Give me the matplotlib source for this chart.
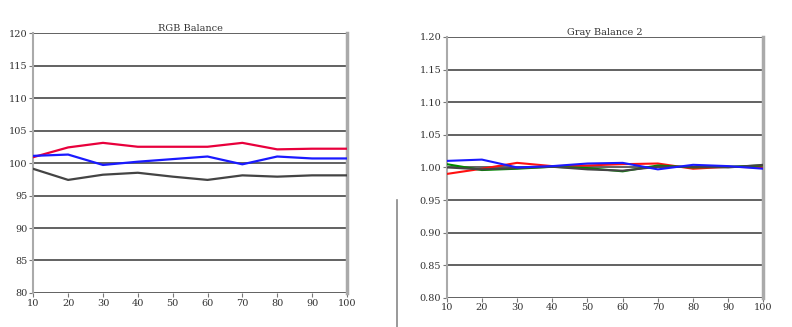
import matplotlib
matplotlib.use("Agg")
import matplotlib.pyplot as plt
from matplotlib.lines import Line2D

x = [10, 20, 30, 40, 50, 60, 70, 80, 90, 100]

left_title = "RGB Balance"
left_red = [100.9, 102.4, 103.1, 102.5, 102.5, 102.5, 103.1, 102.1, 102.2, 102.2]
left_blue = [101.1, 101.3, 99.7, 100.2, 100.6, 101.0, 99.8, 101.0, 100.7, 100.7]
left_gray = [99.1, 97.4, 98.2, 98.5, 97.9, 97.4, 98.1, 97.9, 98.1, 98.1]
left_yticks = [80, 85, 90, 95, 100, 105, 110, 115, 120]

right_title = "Gray Balance 2"
right_red = [0.990, 0.998, 1.007, 1.002, 1.003, 1.005, 1.006, 0.998, 1.001, 1.000]
right_green = [1.005, 0.996, 0.998, 1.001, 0.999, 0.994, 1.003, 1.000, 1.001, 1.003]
right_gray = [1.000, 0.997, 0.999, 1.001, 0.997, 0.995, 1.001, 1.001, 1.000, 1.004]
right_blue = [1.010, 1.012, 1.000, 1.002, 1.006, 1.007, 0.997, 1.004, 1.002, 0.998]
right_yticks = [0.80, 0.85, 0.90, 0.95, 1.00, 1.05, 1.10, 1.15, 1.20]

fig = plt.figure(figsize=(7.92, 3.27), dpi=100)
fig.patch.set_facecolor("white")

def style(ax, yticks, fmt, title):
    ax.set_xlim(10, 100)
    ax.set_ylim(yticks[0], yticks[-1])
    ax.set_xticks(x)
    ax.set_yticks(yticks)
    ax.set_yticklabels([fmt.format(v) for v in yticks])
    for v in yticks:
        ax.axhline(v, color="#555555", lw=1.3, zorder=1)
    for s in ["top", "bottom"]:
        ax.spines[s].set_visible(False)
    ax.spines["left"].set_color("#aaaaaa")
    ax.spines["left"].set_linewidth(1.5)
    ax.spines["right"].set_color("#aaaaaa")
    ax.spines["right"].set_linewidth(2.5)
    ax.tick_params(axis="both", labelsize=7, length=3, width=0.8, color="#777777",
                   labelcolor="#333333", pad=1)
    for lab in ax.get_xticklabels() + ax.get_yticklabels():
        lab.set_family("DejaVu Serif")
    ax.set_title(title, fontsize=7, family="DejaVu Serif", color="#333333", pad=1)

ax1 = fig.add_axes([0.042, 0.104, 0.396, 0.795])
ax1.plot(x, left_red, color="#e8003c", lw=1.6, zorder=3)
ax1.plot(x, left_blue, color="#1a1aff", lw=1.6, zorder=4)
ax1.plot(x, left_gray, color="#444444", lw=1.6, zorder=3)
style(ax1, left_yticks, "{:d}", left_title)

ax2 = fig.add_axes([0.564, 0.089, 0.400, 0.798])
ax2.plot(x, right_red, color="#ff1010", lw=1.5, zorder=3)
ax2.plot(x, right_green, color="#008800", lw=1.5, zorder=3)
ax2.plot(x, right_gray, color="#444444", lw=1.5, zorder=3)
ax2.plot(x, right_blue, color="#1a1aff", lw=1.5, zorder=4)
style(ax2, right_yticks, "{:.2f}", right_title)

fig.add_artist(Line2D([397/792, 397/792], [0, 1 - 200/327], color="#888888", lw=1.2))

fig.savefig("out.png", dpi=100, facecolor="white")
